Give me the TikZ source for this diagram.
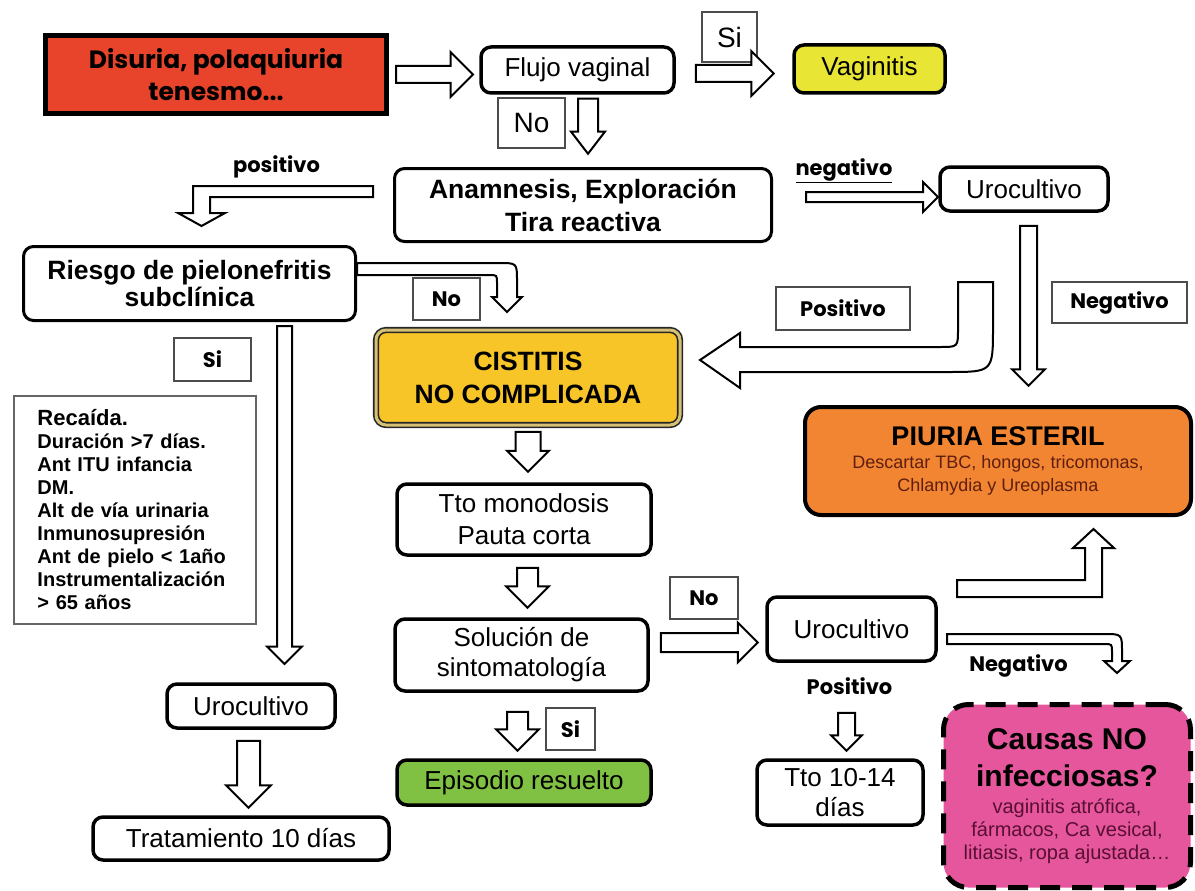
\documentclass[tikz,border=0pt]{standalone}
\usepackage{fontspec}
\setmainfont{Liberation Sans}
\newfontfamily\gotica{Poppins}
\usetikzlibrary{shapes.arrows}

\definecolor{rojo}{RGB}{231,68,43}
\definecolor{amarillo}{RGB}{232,229,52}
\definecolor{oro}{RGB}{247,197,40}
\definecolor{oroclaro}{RGB}{214,192,118}
\definecolor{naranja}{RGB}{241,133,50}
\definecolor{verde}{RGB}{128,192,66}
\definecolor{rosa}{RGB}{229,86,157}
\definecolor{marron}{RGB}{95,30,15}
\definecolor{granate}{RGB}{90,15,50}

\begin{document}
\begin{tikzpicture}[x=1pt, y=-1pt,
  caja/.style={draw, line width=3.5pt, rounded corners=10pt, fill=white, align=center, inner sep=0pt},
  etiqueta/.style={draw=black!70, line width=1.5pt, fill=white, inner sep=0pt},
  flecha/.style 2 args={single arrow, draw, line width=2pt, fill=white, inner xsep=0pt, inner ysep=#1, single arrow head extend=#2, single arrow tip angle=90, minimum width=0pt},
  hueca/.style={draw, line width=2pt, fill=white},
  texto/.style={font=\fontsize{26}{30}\selectfont},
  textob/.style={font=\bfseries\fontsize{26.5}{33}\selectfont},
  gotica/.style={font=\gotica\bfseries\fontsize{21}{24}\selectfont}]

\path[fill=white] (0,0) rectangle (1195,891);

\node[draw, line width=5pt, fill=rojo, minimum width=341pt, minimum height=78pt, align=center, inner sep=0pt, font=\gotica\bfseries\fontsize{25}{32}\selectfont] (disuria) at (216,74.5) {Disuria, polaquiuria\\tenesmo...};
\node[caja, minimum width=193pt, minimum height=46pt, texto] (flujo) at (577.5,70) {Flujo vaginal};
\node[etiqueta, minimum width=55pt, minimum height=50pt, font=\fontsize{28}{30}\selectfont] (si1) at (729.5,37) {Si};
\node[caja, fill=amarillo, minimum width=151pt, minimum height=48pt, texto] (vaginitis) at (869.5,69) {Vaginitis};
\node[etiqueta, minimum width=67pt, minimum height=50pt, font=\fontsize{28}{30}\selectfont] (no1) at (531.5,123) {No};

\node[caja, line width=3pt, minimum width=377pt, minimum height=73pt, textob] (anamnesis) at (583,205) {Anamnesis, Exploración\\Tira reactiva};
\node[gotica] (positivo1) at (276.5,167) {positivo};
\node[gotica] (negativo1) at (844,171) {\underline{negativo}};
\node[caja, minimum width=168pt, minimum height=44pt, texto] (urocultivo1) at (1024,189) {Urocultivo};

\node[caja, line width=3pt, minimum width=332pt, minimum height=74pt, textob, font=\bfseries\fontsize{26.5}{27}\selectfont] (riesgo) at (189.5,283.5) {Riesgo de pielonefritis\\subclínica};
\node[etiqueta, minimum width=67pt, minimum height=42pt, gotica] (no2) at (446.5,299) {No};
\node[caja, fill=oro, draw=black!85, line width=1.6pt, double=oroclaro, double distance=3pt, minimum width=304pt, minimum height=95pt, textob] (cistitis) at (528,377.5) {CISTITIS\\NO COMPLICADA};
\node[etiqueta, minimum width=134pt, minimum height=43pt, gotica] (positivo2) at (843,308.5) {Positivo};
\node[etiqueta, minimum width=135pt, minimum height=41pt, gotica] (negativo2) at (1119.5,302.5) {Negativo};

\node[caja, fill=naranja, line width=4pt, rounded corners=16pt, minimum width=386pt, minimum height=108pt, font=\fontsize{18}{23}\selectfont] (piuria) at (998,461) {{\bfseries\fontsize{27}{30}\selectfont PIURIA ESTERIL}\\{\color{marron}Descartar TBC, hongos, tricomonas,}\\{\color{marron}Chlamydia y Ureoplasma}};

\node[etiqueta, minimum width=77pt, minimum height=43pt, gotica] (si2) at (212.5,359.5) {Si};
\node[draw=black!60, line width=2pt, minimum width=242pt, minimum height=228pt, text width=195pt, align=left, inner sep=0pt, font=\bfseries\fontsize{20}{23}\selectfont] (recaida) at (135,510) {{\fontsize{22}{23}\selectfont Recaída.}\\Duración >7 días.\\Ant ITU infancia\\DM.\\Alt de vía urinaria\\Inmunosupresión\\Ant de pielo < 1año\\Instrumentalización\\> 65 años};

\node[caja, minimum width=254pt, minimum height=71pt, font=\fontsize{26}{32}\selectfont] (tto) at (524,519.5) {Tto monodosis\\Pauta corta};
\node[caja, minimum width=253pt, minimum height=72pt, font=\fontsize{26}{30}\selectfont] (solucion) at (521.5,655) {Solución de\\sintomatología};
\node[etiqueta, minimum width=68pt, minimum height=42pt, gotica] (no3) at (704,598) {No};
\node[etiqueta, minimum width=49pt, minimum height=42pt, gotica] (si3) at (570.5,729) {Si};
\node[caja, fill=verde, minimum width=254pt, minimum height=45pt, texto] (episodio) at (524,782.5) {Episodio resuelto};

\node[caja, minimum width=169pt, minimum height=64pt, texto] (urocultivo3) at (851.5,629) {Urocultivo};
\node[gotica] (negativo3) at (1018.5,666) {Negativo};
\node[gotica] (positivo3) at (849.5,686) {Positivo};
\node[caja, minimum width=166pt, minimum height=65pt, font=\fontsize{26}{30}\selectfont] (tto1014) at (840,792.5) {Tto 10-14\\días};
\node[draw, line width=5pt, dash pattern=on 20pt off 12pt, rounded corners=25pt, fill=rosa, minimum width=247pt, minimum height=183pt, align=center, inner sep=0pt, font=\fontsize{20}{23}\selectfont] (causas) at (1067,796) {{\bfseries\fontsize{30}{36}\selectfont Causas NO}\\[14pt]{\bfseries\fontsize{30}{36}\selectfont infecciosas?}\\[4pt]{\color{granate}vaginitis atrófica,}\\{\color{granate}fármacos, Ca vesical,}\\{\color{granate}litiasis, ropa ajustada…}};

\node[caja, minimum width=168pt, minimum height=44pt, texto] (urocultivo2) at (251,706) {Urocultivo};
\node[caja, minimum width=296pt, minimum height=43pt, texto] (tratamiento) at (241,838.5) {Tratamiento 10 días};

\node[flecha={7.5pt}{14pt}, minimum height=77pt, anchor=tail] (f1) at ([xshift=6pt]disuria.east) {};
\node[flecha={7.5pt}{14pt}, minimum height=78pt, anchor=tail] (f2) at ([xshift=19pt,yshift=-3.5pt]flujo.east) {};
\node[flecha={9pt}{7pt}, single arrow tip angle=75, minimum height=55pt, rotate=-90, anchor=tail] (f3) at ([xshift=10.5pt,yshift=-3pt]flujo.south) {};
\node[flecha={4pt}{10pt}, minimum height=132pt, anchor=tail] (f4) at ([xshift=32pt,yshift=8pt]anamnesis.east) {};
\node[flecha={7.5pt}{8pt}, minimum height=160pt, rotate=-90, anchor=tail] (f5) at ([xshift=4.5pt,yshift=-12pt]urocultivo1.south) {};
\node[flecha={6.5pt}{10pt}, minimum height=338pt, rotate=-90, anchor=tail] (f6) at ([xshift=95pt,yshift=-3pt]riesgo.south) {};
\node[flecha={10.5pt}{11pt}, minimum height=67pt, rotate=-90, anchor=tail] (f7) at ([xshift=-2.5pt,yshift=-10pt]urocultivo2.south) {};
\node[flecha={11.5pt}{8.5pt}, minimum height=40pt, rotate=-90, anchor=tail] (f8) at ([yshift=-5pt]cistitis.south) {};
\node[flecha={9.5pt}{11pt}, minimum height=40pt, rotate=-90, anchor=tail] (f9) at ([xshift=3.5pt,yshift=-10pt]tto.south) {};
\node[flecha={8.5pt}{10.5pt}, minimum height=97pt, anchor=tail] (f10) at ([xshift=10pt,yshift=12.5pt]solucion.east) {};
\node[flecha={9.5pt}{11pt}, minimum height=39pt, rotate=-90, anchor=tail] (f11) at ([xshift=-4pt,yshift=-18pt]solucion.south) {};
\node[flecha={7.5pt}{7pt}, minimum height=38pt, rotate=-90, anchor=tail] (f12) at ([xshift=-5pt,yshift=-49pt]urocultivo3.south) {};

\draw[hueca] (373,186) -- (193,186) -- (193,213) -- (178,213) -- (201.5,226) -- (225,213) -- (210,213) -- (210,197) -- (373,197) -- cycle;
\draw[hueca] (357,263) -- (499,263) .. controls (517,263) .. (517,281) -- (517,297) -- (522,297) -- (507,312) -- (492,297) -- (497,297) -- (497,283) .. controls (497,275) .. (489,275) -- (357,275) -- cycle;
\draw[hueca] (958,282) -- (993,282) -- (993,327) .. controls (993,372) .. (948,372) -- (740,372) -- (740,388) -- (700,360) -- (740,333) -- (740,347) -- (940,347) .. controls (958,347) .. (958,329) -- cycle;
\draw[hueca] (957,580) -- (1085,580) -- (1085,548) -- (1073,548) -- (1093.5,529) -- (1114,548) -- (1102,548) -- (1102,597) -- (957,597) -- cycle;
\draw[hueca] (947,634) -- (1104,634) .. controls (1122,634) .. (1122,652) -- (1122,661) -- (1130,661) -- (1117,673) -- (1104,661) -- (1112,661) -- (1112,652) .. controls (1112,644) .. (1104,644) -- (947,644) -- cycle;

\end{tikzpicture}
\end{document}
